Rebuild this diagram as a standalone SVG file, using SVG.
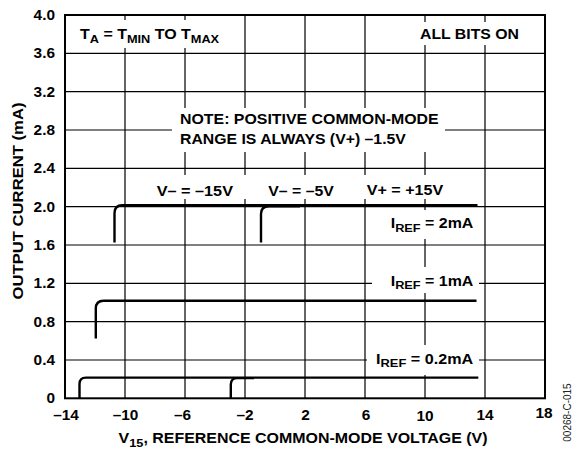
<svg xmlns="http://www.w3.org/2000/svg" width="573" height="452" viewBox="0 0 573 452">
<style>
.g{stroke:#000;stroke-width:1.2;fill:none}
.fr{stroke:#000;stroke-width:2;fill:none}
.c{stroke:#000;stroke-width:2.4;fill:none}
.bg{fill:#fff;stroke:none}
text{font-family:"Liberation Sans",Arial,Helvetica,sans-serif;font-weight:bold;font-size:14px;fill:#000}
.sub{font-size:11.2px}
.ti{text-anchor:middle}
.te{text-anchor:end}
.id{font-weight:normal;font-size:10px;fill:#222}
</style>
<rect width="573" height="452" fill="#fff"/>
<g id="grid">
<path class="g" d="M125 15V398.3M185 15V398.3M245 15V398.3M305 15V398.3M365 15V398.3M425 15V398.3M485 15V398.3"/>
<path class="g" d="M65 360H545M65 321.7H545M65 283.3H545M65 245H545M65 206.7H545M65 168.3H545M65 130H545M65 91.7H545M65 53.3H545"/>
</g>
<g id="label-backgrounds">
<rect class="bg" x="74" y="20" width="155" height="28"/>
<rect class="bg" x="414" y="22" width="110" height="23"/>
<rect class="bg" x="172" y="108" width="273" height="44"/>
<rect class="bg" x="150" y="175" width="300" height="24"/>
<rect class="bg" x="384" y="210" width="95" height="29"/>
<rect class="bg" x="372" y="267" width="107" height="26"/>
<rect class="bg" x="367" y="345" width="112" height="30"/>
</g>
<g id="frame">
<rect class="fr" x="65" y="15" width="480" height="383.3"/>
</g>
<g id="connectors">
<path id="iref2-vm15" class="c" d="M114.5 242.5V213Q114.5 205.2 122.3 205.2H477.5"/>
<path id="iref2-vm5" class="c" d="M261 242.5V214Q261 206.2 268.8 206.2H300"/>
<path id="iref1" class="c" d="M95.8 338.5V308.5Q95.8 300.7 103.6 300.7H476.5"/>
<path id="iref02-vm15" class="c" d="M79.5 398.3V384Q79.5 377.6 85.9 377.6H478.3"/>
<path id="iref02-vm5" class="c" d="M230.8 398.3V384.5Q230.8 378.1 237.2 378.1H254"/>
</g>
<g id="y-ticks">
<text class="te" transform="translate(55 20) scale(1.1 1)">4.0</text>
<text class="te" transform="translate(55 58.3) scale(1.1 1)">3.6</text>
<text class="te" transform="translate(55 96.7) scale(1.1 1)">3.2</text>
<text class="te" transform="translate(55 135) scale(1.1 1)">2.8</text>
<text class="te" transform="translate(55 173.3) scale(1.1 1)">2.4</text>
<text class="te" transform="translate(55 211.7) scale(1.1 1)">2.0</text>
<text class="te" transform="translate(55 250) scale(1.1 1)">1.6</text>
<text class="te" transform="translate(55 288.3) scale(1.1 1)">1.2</text>
<text class="te" transform="translate(55 326.7) scale(1.1 1)">0.8</text>
<text class="te" transform="translate(55 365) scale(1.1 1)">0.4</text>
<text class="te" transform="translate(55 403.3) scale(1.1 1)">0</text>
</g>
<g id="x-ticks">
<text class="ti" transform="translate(66 420) scale(1.1 1)">–14</text>
<text class="ti" transform="translate(125.5 420) scale(1.1 1)">–10</text>
<text class="ti" transform="translate(182.5 420) scale(1.1 1)">–6</text>
<text class="ti" transform="translate(245 420) scale(1.1 1)">–2</text>
<text class="ti" transform="translate(305.5 420) scale(1.1 1)">2</text>
<text class="ti" transform="translate(366 420) scale(1.1 1)">6</text>
<text class="ti" transform="translate(425 421) scale(1.1 1)">10</text>
<text class="ti" transform="translate(485 420) scale(1.1 1)">14</text>
<text class="ti" transform="translate(544 418) scale(1.1 1)">18</text>
</g>
<g id="axis-titles">
<text class="ti" transform="translate(303 443.3) scale(1.14 1)">V<tspan class="sub" dy="3.4">15</tspan><tspan dy="-3.4">, REFERENCE COMMON-MODE VOLTAGE (V)</tspan></text>
<text class="ti" transform="translate(23.3 201) rotate(-90) scale(1.19 1)">OUTPUT CURRENT (mA)</text>
</g>
<g id="labels">
<text id="cond" transform="translate(80 39.3) scale(1.14 1)">T<tspan class="sub" dy="3.4">A</tspan><tspan dy="-3.4"> = T</tspan><tspan class="sub" dy="3.4">MIN</tspan><tspan dy="-3.4"> TO T</tspan><tspan class="sub" dy="3.4">MAX</tspan></text>
<text id="allbits" transform="translate(420 39.3) scale(1.13 1)">ALL BITS ON</text>
<text id="note1" transform="translate(180 124.3) scale(1.136 1)">NOTE: POSITIVE COMMON-MODE</text>
<text id="note2" transform="translate(180 143.5) scale(1.13 1)">RANGE IS ALWAYS (V+) –1.5V</text>
<text id="vm15" transform="translate(156.7 195.5) scale(1.16 1)">V– = –15V</text>
<text id="vm5" transform="translate(268.3 195.5) scale(1.13 1)">V– = –5V</text>
<text id="vp15" transform="translate(366.7 195.2) scale(1.15 1)">V+ = +15V</text>
<text id="l2ma" transform="translate(390.7 228.3) scale(1.14 1)">I<tspan class="sub" dy="3.4">REF</tspan><tspan dy="-3.4"> = 2mA</tspan></text>
<text id="l1ma" transform="translate(390.7 286) scale(1.14 1)">I<tspan class="sub" dy="3.4">REF</tspan><tspan dy="-3.4"> = 1mA</tspan></text>
<text id="l02ma" transform="translate(376 364) scale(1.154 1)">I<tspan class="sub" dy="3.4">REF</tspan><tspan dy="-3.4"> = 0.2mA</tspan></text>
<text class="ti id" transform="translate(571 412.5) rotate(-90)">00268-C-015</text>
</g>
</svg>
